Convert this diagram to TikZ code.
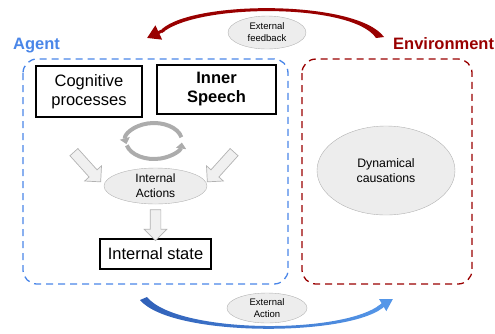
\documentclass[tikz,border=0pt]{standalone}
\usepackage{fontspec}
\setmainfont{Liberation Sans}
\usetikzlibrary{shapes.geometric,shapes.arrows,arrows.meta}
\definecolor{agentblue}{RGB}{74,134,232}
\definecolor{envred}{RGB}{153,0,0}
\definecolor{actdark}{RGB}{48,96,184}
\definecolor{actlight}{RGB}{84,150,232}
\tikzset{
  procbox/.style={draw,line width=1.5pt,inner sep=0pt,align=center,font=\fontsize{16.5}{19}\selectfont},
  bubble/.style={ellipse,draw=gray!60,fill=gray!14,inner sep=0pt,align=center},
  bigarrow/.style={single arrow,draw=gray!60,fill=gray!12,line width=0.7pt,single arrow head extend=6pt,inner xsep=0pt,inner ysep=5pt},
  region/.style={dash pattern=on 7pt off 5pt,line width=1.3pt,rounded corners=14pt},
  loopline/.style={line width=4pt,gray!65,-{Triangle[length=6pt,width=10pt]}},
  bigtitle/.style={anchor=base west,inner sep=0pt,font=\fontsize{16.5}{20}\selectfont\bfseries}
}

\begin{document}
\begin{tikzpicture}[x=1pt,y=1pt]
\useasboundingbox (0,0) rectangle (495,-333);
% the two regions
\draw[region,agentblue] (23,-59) rectangle (288,-284);
\draw[region,envred] (302,-59) rectangle (472,-284);
\node[bigtitle,text=agentblue] (agent) at (13,-49) {Agent};
\node[bigtitle,text=envred] (env) at (393,-49) {Environment};

% inside the agent
\node[procbox,minimum width=106pt,minimum height=51pt] (cog) at (89,-91.5) {Cognitive\\processes};
\node[procbox,minimum width=119pt,minimum height=49pt,font=\fontsize{16.5}{19}\selectfont\bfseries] (speech) at (216.5,-89.5) {Inner\\Speech};
\node[bubble,minimum width=103pt,minimum height=36pt,font=\fontsize{12}{15}\selectfont] (intact) at (155.5,-186) {Internal\\Actions};
\node[procbox,minimum width=111pt,minimum height=30pt] (state) at (155.5,-254) {Internal state};
\node[bigarrow,minimum height=40pt,rotate=-48] (inL) at (85.5,-165) {};
\node[bigarrow,minimum height=40pt,rotate=-132] (inR) at (222.5,-165) {};
\node[bigarrow,minimum height=31pt,rotate=-90] (down) at (155.5,-222.5) {};
\coordinate (loop) at (154,-141);
\draw[loopline] ([shift={(12:28 and 18)}]loop) arc[start angle=12,end angle=190,x radius=28,y radius=18];
\draw[loopline] ([shift={(194:28 and 18)}]loop) arc[start angle=194,end angle=355,x radius=28,y radius=18];

% environment
\node[bubble,minimum width=138pt,minimum height=89pt,font=\fontsize{12.3}{15}\selectfont] (dyn) at (386,-170.5) {Dynamical\\causations};

% feedback and action
\fill[envred] (384,-37) .. controls (357,0) and (195,0) .. (162,-29) -- (162,-33) .. controls (197,-3) and (353,-3) .. (376,-38) -- cycle;
\draw[envred,line width=3pt,-{Triangle[length=13pt,width=15pt]}] (164,-30) -- (147,-38);
\node[bubble,minimum width=78pt,minimum height=33pt,font=\fontsize{9.5}{12}\selectfont] (fb) at (267,-32.5) {External\\feedback};
\shade[left color=actdark,right color=actlight] (140,-300) .. controls (172,-338) and (356,-337) .. (386,-305) -- (384,-301) .. controls (354,-335) and (178,-335) .. (147,-297) -- cycle;
\draw[actlight,line width=3pt,-{Triangle[length=12pt,width=13pt]}] (378,-308) -- (393,-299);
\node[bubble,minimum width=80pt,minimum height=30pt,font=\fontsize{9.5}{12}\selectfont] (act) at (267,-308) {External\\Action};
\end{tikzpicture}
\end{document}
